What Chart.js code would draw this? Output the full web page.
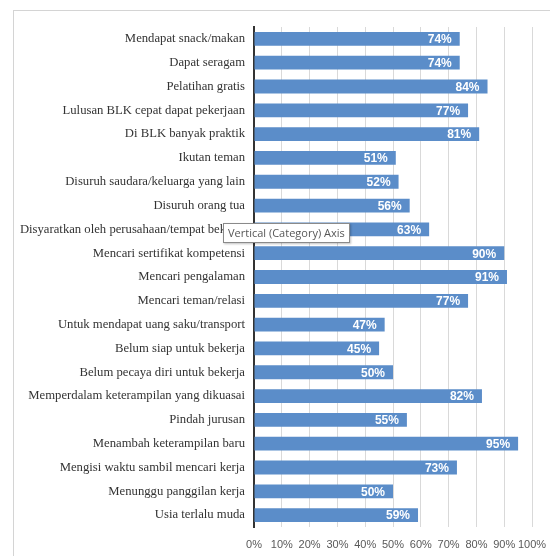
<!DOCTYPE html>
<html>
<head>
<meta charset="utf-8">
<script src="https://cdn.jsdelivr.net/npm/chart.js@4/dist/chart.umd.min.js"></script>
<style>
  html, body { margin: 0; padding: 0; background: #ffffff; overflow: hidden; }
  #wrap { position: relative; width: 550px; height: 556px; }
  #frame { position: absolute; left: 13px; top: 10px; width: 600px; height: 600px; border: 1px solid #d4d4d4; }
  #chart { position: absolute; left: 0; top: 0; }
  #tip {
    position: absolute; left: 223px; top: 223px; height: 18px; padding: 0 4px;
    background: #ffffff; border: 1px solid #8a8a8a; box-shadow: 1px 1px 2px rgba(0,0,0,0.25);
    font: 11px "Open Sans", sans-serif; color: #575757; line-height: 18px; white-space: nowrap;
  }
</style>
</head>
<body>
<div id="wrap">
  <div id="frame"></div>
  <canvas id="chart" width="550" height="556"></canvas>
  <div id="tip">Vertical (Category) Axis</div>
</div>
<script>
// reasons for joining the BLK training, % of respondents
const categories = [
  "Mendapat snack/makan",
  "Dapat seragam",
  "Pelatihan gratis",
  "Lulusan BLK cepat dapat pekerjaan",
  "Di BLK banyak praktik",
  "Ikutan teman",
  "Disuruh saudara/keluarga yang lain",
  "Disuruh orang tua",
  "Disyaratkan oleh perusahaan/tempat bekerja",
  "Mencari sertifikat kompetensi",
  "Mencari pengalaman",
  "Mencari teman/relasi",
  "Untuk mendapat uang saku/transport",
  "Belum siap untuk bekerja",
  "Belum pecaya diri untuk bekerja",
  "Memperdalam keterampilan yang dikuasai",
  "Pindah jurusan",
  "Menambah keterampilan baru",
  "Mengisi waktu sambil mencari kerja",
  "Menunggu panggilan kerja",
  "Usia terlalu muda"
];
const percents = [74, 74, 84, 77, 81, 51, 52, 56, 63, 90, 91, 77, 47, 45, 50, 82, 55, 95, 73, 50, 59];
const xTicks = [0, 10, 20, 30, 40, 50, 60, 70, 80, 90, 100];

// white value labels at the inner end of each bar
const barLabels = {
  id: 'barLabels',
  afterDatasetsDraw(chart) {
    const ctx = chart.ctx;
    const meta = chart.getDatasetMeta(0);
    ctx.save();
    ctx.font = 'bold 12px "Liberation Sans", sans-serif';
    ctx.fillStyle = '#ffffff';
    ctx.textAlign = 'right';
    ctx.textBaseline = 'middle';
    meta.data.forEach(function(bar, i) {
      ctx.fillText(percents[i] + '%', bar.x - 8, bar.y + 1);
    });
    ctx.restore();
  }
};

var ctx = document.getElementById('chart').getContext('2d');
var chart = new Chart(ctx, {
  type: 'bar',
  data: {
    labels: categories,
    datasets: [{
      data: percents,
      backgroundColor: '#5b8dc9',
      borderWidth: 0,
      barPercentage: 0.58,
      categoryPercentage: 1
    }]
  },
  options: {
    indexAxis: 'y',
    responsive: false,
    animation: false,
    layout: { padding: { top: 27, right: 18, left: 0, bottom: 0 } },
    plugins: { legend: { display: false }, tooltip: { enabled: false } },
    scales: {
      x: {
        min: 0,
        max: 100,
        afterBuildTicks: function(scale) {
          scale.ticks = xTicks.map(function(v) { return { value: v }; });
        },
        afterFit: function(scale) {
          scale.height = 29;
          scale.paddingLeft = 0;
          scale.paddingRight = 0;
        },
        grid: { color: '#d9d9d9', lineWidth: 1, drawTicks: false },
        border: { display: false },
        ticks: {
          padding: 11,
          minRotation: 0,
          maxRotation: 0,
          autoSkip: false,
          color: '#595959',
          font: { family: '"Liberation Sans", sans-serif', size: 11 },
          callback: function(v) { return v + '%'; }
        }
      },
      y: {
        afterFit: function(scale) { scale.width = 254; },
        grid: { display: false, drawTicks: false },
        border: { display: true, color: '#333333', width: 2 },
        ticks: {
          padding: 9,
          color: '#333333',
          autoSkip: false,
          font: { family: '"Liberation Serif", serif', size: 12.7 }
        }
      }
    }
  },
  plugins: [barLabels]
});
</script>
</body>
</html>
